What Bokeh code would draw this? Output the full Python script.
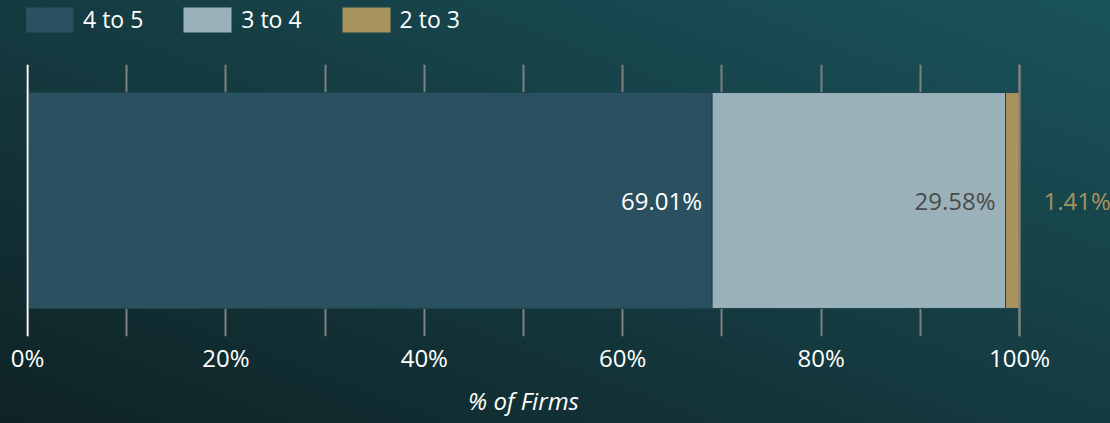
import numpy as np
from bokeh.plotting import figure
from bokeh.layouts import column
from bokeh.models import (ColumnDataSource, FixedTicker, Span, Legend, LegendItem, Range1d,
                          LinearAxis)
from bokeh.core.properties import value
from bokeh.embed import file_html
from bokeh.resources import INLINE

categories = ["4 to 5", "3 to 4", "2 to 3"]
shares = [69.01, 29.58, 1.41]
colors = ["#2b5060", "#9ab1ba", "#a8935e"]
label_colors = ["#ffffff", "#4a4a4a", "#a8935e"]
tick_values = [0, 20, 40, 60, 80, 100]
tick_labels = ["0%", "20%", "40%", "60%", "80%", "100%"]
axis_title = "% of Firms"

right = np.cumsum(shares)
left = right - np.array(shares)

FONT = "Open Sans"
EDGE = "#1d4750"

# ---------- legend strip ----------
lf = figure(width=1110, height=64, output_backend="svg", toolbar_location=None,
            x_range=Range1d(0, 1), y_range=Range1d(0, 1),
            x_axis_type=None, y_axis_type=None, title_location=None,
            min_border_left=0, min_border_right=0, min_border_top=0, min_border_bottom=0)
lf.background_fill_alpha = 0
lf.border_fill_alpha = 0
lf.outline_line_color = None
lf.xgrid.visible = False
lf.ygrid.visible = False
leg_renderers = []
for i in range(len(categories)):
    # legend swatches only (drawn outside the visible range)
    r = lf.hbar(y=-5, left=left[i], right=right[i], height=0.5,
                fill_color=colors[i], line_color=colors[i], line_width=0)
    leg_renderers.append(r)
legend = Legend(items=[LegendItem(label=c, renderers=[r]) for c, r in zip(categories, leg_renderers)],
                orientation="horizontal", location=(-7, 29))
legend.glyph_width = 60
legend.glyph_height = 31
legend.label_standoff = 4
legend.spacing = 34
legend.label_text_color = "white"
legend.label_text_font = FONT
legend.label_text_font_size = "23px"
legend.label_height = 25
legend.background_fill_alpha = 0
legend.border_line_color = None
legend.margin = 0
legend.padding = 8
lf.add_layout(legend, "center")

# ---------- main chart ----------
p = figure(width=1110, height=359, output_backend="svg", toolbar_location=None,
           x_range=Range1d(-0.1008, 109.17), y_range=Range1d(0, 1), title_location=None,
           min_border_left=26, min_border_right=0, min_border_top=0, min_border_bottom=87)
p.background_fill_alpha = 0
p.border_fill_alpha = 0
p.outline_line_color = None

src = ColumnDataSource(dict(lc=label_colors,
                            txt=[f"{v:.2f}%" for v in shares],
                            lx=list(right),
                            align=["right", "right", "left"],
                            xoff=[-10, -10, 24]))

for i in range(len(categories)):
    p.hbar(y=0.5, left=left[i], right=right[i], height=0.794,
           fill_color=colors[i], line_color=EDGE, line_width=1)

p.text(x="lx", y=0.5, text="txt", source=src, text_color="lc", text_align="align",
       text_baseline="middle", x_offset="xoff", text_font=value(FONT), text_font_size="24px")

p.add_layout(Span(location=0, dimension="height", line_color="white", line_width=2))
p.add_layout(Span(location=100, dimension="height", line_color="#808080", line_width=2))

p.ygrid.visible = False
p.yaxis.visible = False
p.xgrid.ticker = FixedTicker(ticks=list(range(0, 101, 10)))
p.xgrid.grid_line_color = "#808080"
p.xgrid.grid_line_width = 2

ax = p.xaxis[0]
ax.ticker = FixedTicker(ticks=tick_values)
ax.major_label_overrides = {v: t for v, t in zip(tick_values, tick_labels)}
ax.axis_line_color = None
ax.major_tick_line_color = None
ax.minor_tick_line_color = None
ax.major_tick_in = 0
ax.major_tick_out = 0
ax.minor_tick_in = 0
ax.minor_tick_out = 0
ax.major_label_text_color = "white"
ax.major_label_text_font = FONT
ax.major_label_text_font_size = "24px"
ax.major_label_standoff = 4

# axis title, centred under the 0-100 % scale
ax2 = LinearAxis(ticker=FixedTicker(ticks=[50]), major_label_overrides={50: axis_title})
ax2.axis_line_color = None
ax2.major_tick_line_color = None
ax2.minor_tick_line_color = None
ax2.major_tick_in = 0
ax2.major_tick_out = 0
ax2.minor_tick_in = 0
ax2.minor_tick_out = 0
ax2.major_label_text_color = "white"
ax2.major_label_text_font = FONT
ax2.major_label_text_font_size = "24px"
ax2.major_label_text_font_style = "italic"
ax2.major_label_standoff = 7
p.add_layout(ax2, "below")

layout = column(lf, p, spacing=0)
layout.styles = {"background": "linear-gradient(to top right, #0f2326, #1a535b)"}

open("out.html", "w").write(file_html(layout, INLINE))
